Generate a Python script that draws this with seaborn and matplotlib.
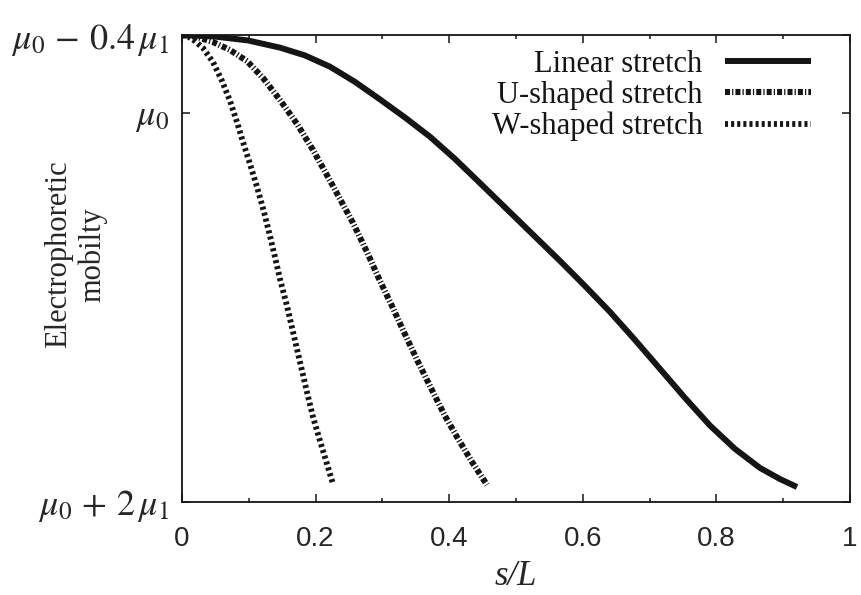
import numpy as np
import pandas as pd
import matplotlib
matplotlib.use("Agg")
import matplotlib.pyplot as plt
import seaborn as sns
from matplotlib.ticker import MultipleLocator, FixedLocator

# Electrophoretic mobility along the filament (s/L), in units of mu_1 offset from mu_0
linear_s = [0.0, 0.0494, 0.0988, 0.1467, 0.1841, 0.2216, 0.2590, 0.2964, 0.3338, 0.3713,
            0.4087, 0.4461, 0.5105, 0.5659, 0.6033, 0.6407, 0.6781, 0.7156, 0.7530,
            0.7904, 0.8278, 0.8653, 0.8952, 0.9207]
linear_mu = [-0.400, -0.392, -0.372, -0.335, -0.295, -0.237, -0.159, -0.069, 0.024, 0.123,
             0.237, 0.361, 0.576, 0.761, 0.890, 1.023, 1.167, 1.316, 1.465,
             1.607, 1.727, 1.825, 1.882, 1.923]

ushape_s = [0.0, 0.0225, 0.0464, 0.0719, 0.0973, 0.1213, 0.1467, 0.1722, 0.1961, 0.2260,
            0.2560, 0.2769, 0.2964, 0.3144, 0.3308, 0.3533, 0.3757, 0.3937, 0.4117,
            0.4341, 0.4566]
ushape_mu = [-0.400, -0.390, -0.364, -0.323, -0.266, -0.179, -0.066, 0.057, 0.191, 0.376,
             0.566, 0.715, 0.864, 0.993, 1.116, 1.280, 1.435, 1.558, 1.666,
             1.794, 1.912]

wshape_s = [0.0, 0.0090, 0.0165, 0.0314, 0.0464, 0.0599, 0.0719, 0.0823, 0.0913, 0.1018,
            0.1123, 0.1228, 0.1317, 0.1392, 0.1467, 0.1572, 0.1662, 0.1766, 0.1871,
            0.1961, 0.2066, 0.2171, 0.2260]
wshape_mu = [-0.400, -0.392, -0.377, -0.333, -0.261, -0.164, -0.061, 0.047, 0.150, 0.263,
             0.381, 0.510, 0.633, 0.741, 0.854, 0.993, 1.126, 1.280, 1.435,
             1.563, 1.686, 1.805, 1.907]

series_names = ["Linear stretch", "U-shaped stretch", "W-shaped stretch"]

y_ticks = [-0.4, 0.0, 2.0]
y_ticklabels = [r"$\mu_0\,-\,0.4\,\mu_1$", r"$\mu_0$", r"$\mu_0\,+\,2\,\mu_1$"]
x_ticks = [0, 0.2, 0.4, 0.6, 0.8, 1.0]
x_ticklabels = ["0", "0.2", "0.4", "0.6", "0.8", "1"]

sns.set_theme(style="ticks")
plt.rcParams["mathtext.fontset"] = "stix"
plt.rcParams["lines.scale_dashes"] = False
plt.rcParams["font.family"] = ["Liberation Serif", "DejaVu Serif"]

ink = "#151515"

fig = plt.figure(figsize=(8.62, 5.95), dpi=100)
ax = fig.add_axes([182 / 862, 1 - 502 / 595, 668 / 862, 467 / 595])

frames = [
    pd.DataFrame({"s": linear_s, "mu": linear_mu}),
    pd.DataFrame({"s": ushape_s, "mu": ushape_mu}),
    pd.DataFrame({"s": wshape_s, "mu": wshape_mu}),
]
styles = [
    dict(lw=4.3, linestyle="-", solid_capstyle="butt", solid_joinstyle="round"),
    dict(lw=4.4, linestyle=(0, (3.6, 1.5, 0.9, 1.5)), dash_capstyle="butt"),
    dict(lw=4.2, linestyle=(0, (2.2, 2.2)), dash_capstyle="butt"),
]
for df, name, st in zip(frames, series_names, styles):
    sns.lineplot(data=df, x="s", y="mu", ax=ax, color=ink, label=name,
                 estimator=None, sort=False, **st)

ax.set_xlim(0, 1)
ax.set_ylim(2.0, -0.4)

ax.xaxis.set_major_locator(FixedLocator(x_ticks))
ax.set_xticklabels(x_ticklabels, family="Liberation Sans", fontsize=20)
ax.xaxis.set_minor_locator(MultipleLocator(0.1))
ax.yaxis.set_major_locator(FixedLocator(y_ticks))
ax.set_yticklabels(y_ticklabels, fontsize=26)

ax.tick_params(axis="both", which="major", direction="in", length=6, width=1.1,
               color=ink, top=True, right=True)
ax.tick_params(axis="x", which="major", pad=17)
ax.tick_params(axis="y", which="major", pad=9)
ax.tick_params(axis="x", which="minor", direction="in", length=3, width=1.1,
               color=ink, top=True, bottom=True)
for sp in ax.spines.values():
    sp.set_color(ink)
    sp.set_linewidth(1.3)

ax.set_xlabel("s/L", fontsize=25, style="italic", labelpad=6)
ax.set_ylabel("Electrophoretic\nmobilty", fontsize=22, linespacing=1.2)
ax.yaxis.set_label_coords(-0.112, 0.53)

leg = ax.legend(loc="upper right", bbox_to_anchor=(0.9416, 0.9685), frameon=False,
                markerfirst=False, fontsize=22, handlelength=2.8, handletextpad=0.75,
                labelspacing=0.06, borderaxespad=0, borderpad=0)
for t in leg.get_texts():
    t.set_color(ink)

fig.savefig("out.png", dpi=100, facecolor="white")
